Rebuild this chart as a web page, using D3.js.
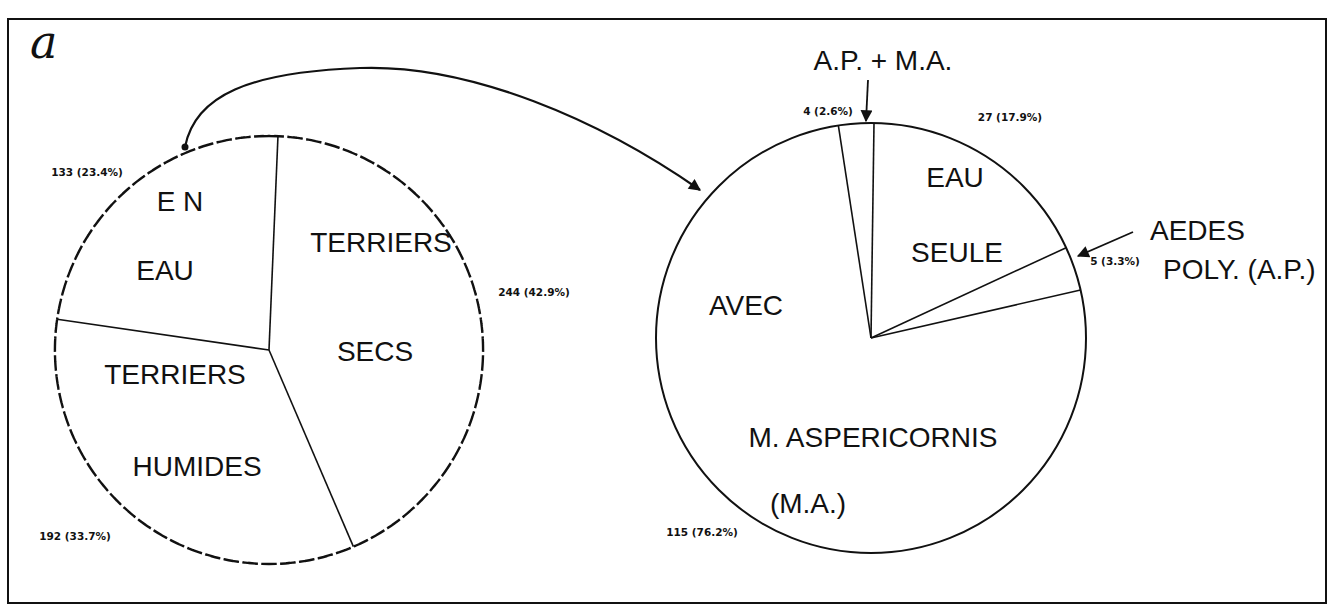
<!DOCTYPE html>
<html>
<head>
<meta charset="utf-8">
<script src="https://cdn.jsdelivr.net/npm/d3@7"></script>
<style>
  body { margin: 0; background: #fff; }
  svg { display: block; }
  .big { font-family: "Liberation Sans", Arial, sans-serif; font-size: 28px; fill: #111; }
  .small { font-family: "DejaVu Sans", sans-serif; font-weight: bold; font-size: 10.5px; fill: #111; }
</style>
</head>
<body>
<svg width="1334" height="615"></svg>
<script>
// left pie: where the larvae were found
let left_categories = ["TERRIERS SECS", "TERRIERS HUMIDES", "EN EAU"];
let left_values = [244, 192, 133];

// right pie: what lives with them in water
let right_categories = ["EAU SEULE", "AEDES POLY. (A.P.)", "AVEC M. ASPERICORNIS (M.A.)", "A.P. + M.A."];
let right_values = [27, 5, 115, 4];

let fmt = d3.format(".1f");
let svg = d3.select("svg");
let W = 1334, H = 615;

svg.append("rect").attr("width", W).attr("height", H).attr("fill", "#fff");

// frame
svg.append("rect")
    .attr("x", 8).attr("y", 19)
    .attr("width", 1318).attr("height", 584)
    .attr("fill", "none").attr("stroke", "#111").attr("stroke-width", 2);

// handwritten panel letter
svg.append("text")
    .attr("x", 30).attr("y", 58)
    .attr("font-family", "DejaVu Serif").attr("font-style", "italic")
    .attr("font-size", 46).attr("fill", "#111")
    .text("a");

let defs = svg.append("defs");
defs.append("marker")
    .attr("id", "head")
    .attr("viewBox", "0 0 10 10")
    .attr("refX", 9).attr("refY", 5)
    .attr("markerUnits", "userSpaceOnUse")
    .attr("orient", "auto")
    .attr("markerWidth", 16).attr("markerHeight", 12)
    .append("path").attr("d", "M0,0 L10,5 L0,10 z").attr("fill", "#111");

// draws one pie: outline, spokes, texts
function drawPie(opts) {
    let pie = d3.pie().sort(null)
        .startAngle(opts.start)
        .endAngle(opts.start + 2 * Math.PI);
    let arcs = pie(opts.values);
    let r = opts.r;

    let g = svg.append("g").attr("transform", `translate(${opts.cx},${opts.cy})`);

    let arc = d3.arc().innerRadius(0).outerRadius(r);
    g.selectAll("path.slice")
        .data(arcs)
        .join("path")
        .attr("class", "slice")
        .attr("d", arc)
        .attr("fill", "#fff")
        .attr("stroke", "none");

    g.append("path")
        .attr("d", d3.arc().innerRadius(r).outerRadius(r).startAngle(0).endAngle(2 * Math.PI)())
        .attr("fill", "none")
        .attr("stroke", "#111")
        .attr("stroke-width", opts.dashed ? 2.4 : 2)
        .attr("stroke-dasharray", opts.dashed ? "9,4,2,4" : null);

    g.selectAll("line.spoke")
        .data(arcs)
        .join("line")
        .attr("class", "spoke")
        .attr("x1", 0).attr("y1", 0)
        .attr("x2", d => r * Math.sin(d.startAngle))
        .attr("y2", d => -r * Math.cos(d.startAngle))
        .attr("stroke", "#111")
        .attr("stroke-width", 1.6);

    let total = d3.sum(opts.values);
    g.selectAll("text.small")
        .data(arcs)
        .join("text")
        .attr("class", "small")
        .attr("text-anchor", "middle")
        .attr("dominant-baseline", "middle")
        .attr("x", (d, i) => opts.countPos[i][0])
        .attr("y", (d, i) => opts.countPos[i][1])
        .text(d => `${d.data} (${fmt(d.data / total * 100)}%)`);

    g.selectAll("text.big")
        .data(opts.words)
        .join("text")
        .attr("class", "big")
        .attr("text-anchor", "middle")
        .attr("dominant-baseline", "middle")
        .attr("x", d => d[1])
        .attr("y", d => d[2])
        .text(d => d[0]);
}

drawPie({
    cx: 269, cy: 350, r: 214, start: 2.4 * Math.PI / 180, dashed: true,
    values: left_values,
    countPos: [[265, -57], [-194, 187], [-182, -177]],
    words: [["TERRIERS", 112, -105], ["SECS", 106, 4],
            ["TERRIERS", -94, 27], ["HUMIDES", -72, 119],
            ["E N", -89, -146], ["EAU", -104, -77]]
});

drawPie({
    cx: 871, cy: 338, r: 215, start: 0.8 * Math.PI / 180, dashed: false,
    values: right_values,
    countPos: [[139, -220], [244, -76], [-169, 195], [-43, -226]],
    words: [["EAU", 84, -158], ["SEULE", 86, -83],
            ["AVEC", -125, -30], ["M. ASPERICORNIS", 2, 102], ["(M.A.)", -63, 168]]
});

// outside callouts for the two thin slices
svg.append("text").attr("class", "big").attr("text-anchor", "middle")
    .attr("dominant-baseline", "middle").attr("x", 883).attr("y", 63).text("A.P. + M.A.");
svg.append("line")
    .attr("x1", 868).attr("y1", 80).attr("x2", 866).attr("y2", 121)
    .attr("stroke", "#111").attr("stroke-width", 1.8)
    .attr("marker-end", "url(#head)");

svg.append("text").attr("class", "big").attr("text-anchor", "start")
    .attr("dominant-baseline", "middle").attr("x", 1150).attr("y", 233).text("AEDES");
svg.append("text").attr("class", "big").attr("text-anchor", "start")
    .attr("dominant-baseline", "middle").attr("x", 1163).attr("y", 272).text("POLY. (A.P.)");
svg.append("line")
    .attr("x1", 1133).attr("y1", 232).attr("x2", 1078).attr("y2", 256)
    .attr("stroke", "#111").attr("stroke-width", 1.8)
    .attr("marker-end", "url(#head)");

// curved arrow from the "en eau" slice to the right pie
let p = d3.path();
p.moveTo(185, 147);
p.bezierCurveTo(195, 95, 250, 72, 360, 68);
p.bezierCurveTo(470, 64, 600, 120, 700, 190);
svg.append("path")
    .attr("d", p.toString())
    .attr("fill", "none").attr("stroke", "#111").attr("stroke-width", 2.2)
    .attr("marker-end", "url(#head)");
svg.append("circle").attr("cx", 185).attr("cy", 147).attr("r", 3.5).attr("fill", "#111");
</script>
</body>
</html>
